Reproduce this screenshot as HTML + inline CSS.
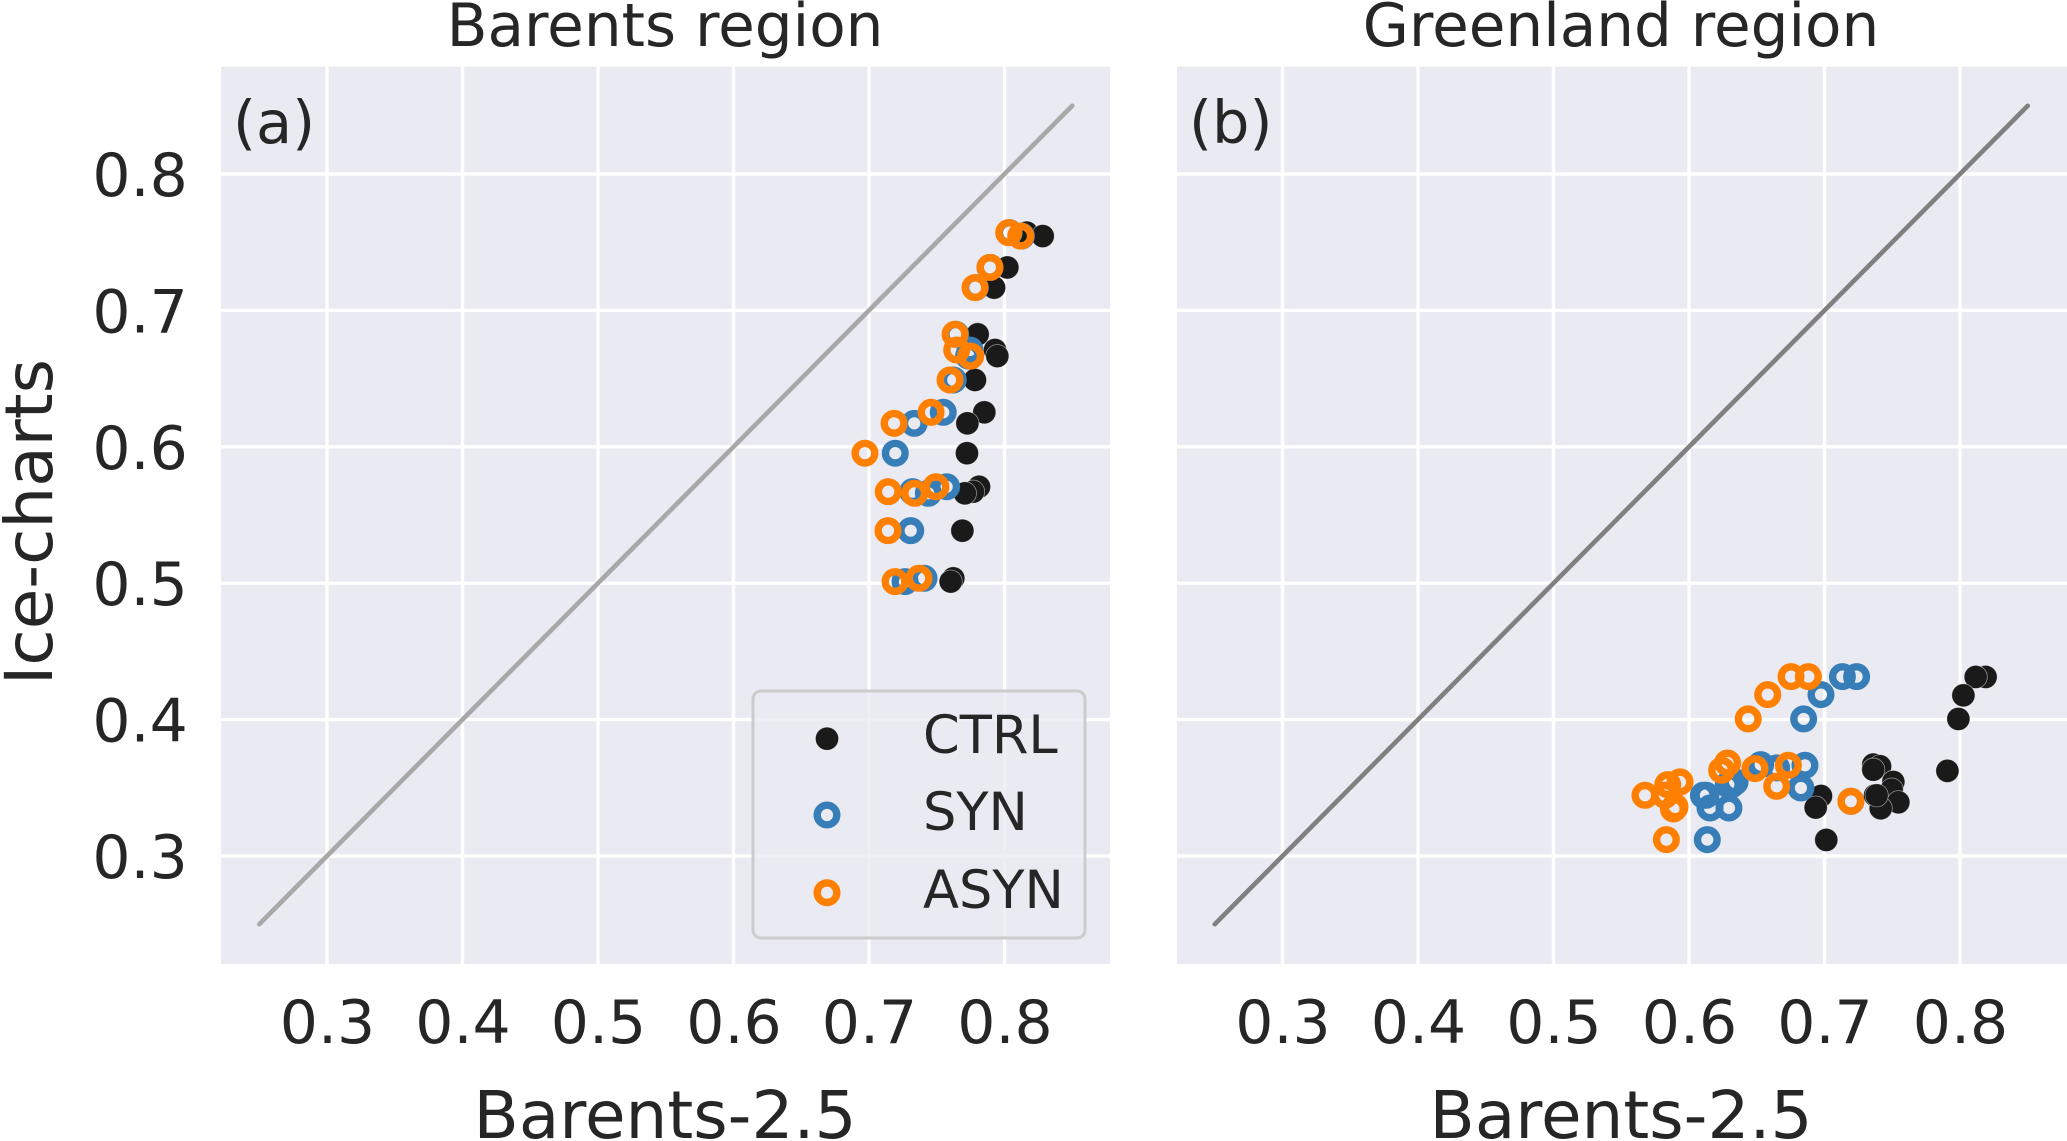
<!DOCTYPE html>
<html lang="en">
<head>
<meta charset="utf-8">
<title>Barents and Greenland region scatter</title>
<style>
html,body{margin:0;padding:0;background:#fff;width:2067px;height:1141px;overflow:hidden}
svg{display:block}
text{font-family:"DejaVu Sans","Liberation Sans",sans-serif;fill:#262626}
</style>
</head>
<body>
<svg id="chart" xmlns="http://www.w3.org/2000/svg" width="2067" height="1141" viewBox="0 0 2067 1141"></svg>
<script>
const tickValues = [0.3, 0.4, 0.5, 0.6, 0.7, 0.8];
const tickLabels = ['0.3', '0.4', '0.5', '0.6', '0.7', '0.8'];
const diagonalEnds = [0.25, 0.85];

const seriesNames = ['CTRL', 'SYN', 'ASYN'];

const barentsIce = [0.757,0.7545,0.7315,0.7167,0.6825,0.671,0.6665,0.649,0.6253,0.6172,0.5953,0.5707,0.5671,0.5659,0.5385,0.5036,0.5012];
const barentsCtrl = [0.8164,0.8282,0.8021,0.7923,0.7802,0.793,0.7947,0.7782,0.7851,0.7726,0.7723,0.7812,0.7768,0.7708,0.7689,0.7622,0.7603];
const barentsSyn = [0.8035,0.8125,0.7893,0.7785,0.764,0.7745,0.7735,0.7622,0.7548,0.7334,0.7194,0.7573,0.7322,0.7438,0.7308,0.7406,0.7266];
const barentsAsyn = [0.8031,0.812,0.7893,0.7782,0.7635,0.7647,0.775,0.7598,0.7458,0.7185,0.697,0.7494,0.7142,0.7337,0.714,0.7369,0.7192];

const greenlandCtrl = [0.8189,0.8116,0.8025,0.7988,0.736,0.741,0.7907,0.736,0.7508,0.7496,0.7545,0.7373,0.6974,0.7415,0.6935,0.7385,0.7013];
const greenlandCtrlIce = [0.4313,0.4313,0.4178,0.4005,0.367,0.3658,0.3624,0.3633,0.3543,0.3487,0.3394,0.3445,0.344,0.335,0.3355,0.3445,0.3118];
const greenlandSyn = [0.7237,0.7132,0.6974,0.6846,0.6529,0.6856,0.6647,0.634,0.629,0.6106,0.6826,0.6155,0.6295,0.7195,0.6135,0.6125,0.6315];
const greenlandSynIce = [0.4315,0.4315,0.4183,0.4005,0.367,0.3665,0.3646,0.3543,0.3523,0.3445,0.3499,0.3352,0.3352,0.3401,0.312,0.3445,0.3523];
const greenlandAsyn = [0.6881,0.6753,0.6581,0.6437,0.6285,0.6733,0.6487,0.6241,0.5934,0.5843,0.6647,0.5675,0.5823,0.7195,0.5897,0.5885,0.5833];
const greenlandAsynIce = [0.4315,0.4315,0.4183,0.4005,0.3682,0.3665,0.3641,0.3629,0.3543,0.3523,0.3511,0.3445,0.3445,0.3401,0.336,0.3345,0.312];

const NS = 'http://www.w3.org/2000/svg';
const svg = document.getElementById('chart');

function mk(parent, tag, attrs, text) {
  const el = document.createElementNS(NS, tag);
  for (const k in attrs) el.setAttribute(k, attrs[k]);
  if (text !== undefined) el.textContent = text;
  parent.appendChild(el);
  return el;
}

const DX = 1355, DY = 1364;
function yScale(v) { return 174 + (0.8 - v) * DY; }
function xScaleFor(origin) { return function (v) { return origin + (v - 0.3) * DX; }; }

function drawRing(parent, cx, cy, color, name) {
  const c = mk(parent, 'circle', {cx: cx, cy: cy, r: 9.8, fill: 'none', stroke: color, 'stroke-width': 7.4});
  
  
}
function drawDot(parent, cx, cy, name) {
  const c = mk(parent, 'circle', {cx: cx, cy: cy, r: 11.6, fill: '#1a1a1a', stroke: '#ffffff', 'stroke-width': 0.8, 'stroke-opacity': 0.5});
  
  
}

function drawPanel(cfg) {
  const x = xScaleFor(cfg.x03);
  const panel = mk(svg, 'g', {});
  
  

  const bg = mk(panel, 'rect', {x: cfg.left, y: 66.7, width: cfg.right - cfg.left, height: 897.3, fill: '#eaeaf2'});
  
  

  tickValues.forEach(function (v, i) {
    const vg = mk(panel, 'line', {x1: x(v), x2: x(v), y1: 66.7, y2: 964, stroke: '#fff', 'stroke-width': 3.4});
    
    
    const hg = mk(panel, 'line', {x1: cfg.left, x2: cfg.right, y1: yScale(v), y2: yScale(v), stroke: '#fff', 'stroke-width': 3.4});
    
    
    const xt = mk(panel, 'text', {x: x(v) + 0.5, y: 1043, 'font-size': 60, 'text-anchor': 'middle'}, tickLabels[i]);
    
    
  });

  const diag = mk(panel, 'line', {
    x1: x(diagonalEnds[0]), y1: yScale(diagonalEnds[0]),
    x2: x(diagonalEnds[1]), y2: yScale(diagonalEnds[1]),
    stroke: cfg.lineColor, 'stroke-width': 4.6, 'stroke-linecap': 'round'
  });
  
  

  cfg.ctrl.forEach(function (v, i) { drawDot(panel, x(v), yScale(cfg.ctrlIce[i]), 'ctrl-point'); });
  cfg.syn.forEach(function (v, i) { drawRing(panel, x(v), yScale(cfg.synIce[i]), '#377eb8', 'syn-point'); });
  cfg.asyn.forEach(function (v, i) { drawRing(panel, x(v), yScale(cfg.asynIce[i]), '#ff7f00', 'asyn-point'); });

  const title = mk(panel, 'text', {x: cfg.center + 1, y: 46, 'font-size': 59.6, 'text-anchor': 'middle'}, cfg.title);
  
  

  const xl = mk(panel, 'text', {x: cfg.center + 1, y: 1138, 'font-size': 66, 'text-anchor': 'middle'}, 'Barents-2.5');
  
  

  const tag = mk(panel, 'text', {x: cfg.left + 12, y: 143, 'font-size': 59}, cfg.tag);
  
  
}

drawPanel({id: 'barents', left: 221, right: 1110, x03: 327, center: 664, title: 'Barents region', tag: '(a)',
  lineColor: '#a8a8a8', ctrlIce: barentsIce, synIce: barentsIce, asynIce: barentsIce,
  ctrl: barentsCtrl, syn: barentsSyn, asyn: barentsAsyn});
drawPanel({id: 'greenland', left: 1177, right: 2067, x03: 1282.5, center: 1620, title: 'Greenland region', tag: '(b)',
  lineColor: '#808080', ctrlIce: greenlandCtrlIce, synIce: greenlandSynIce, asynIce: greenlandAsynIce,
  ctrl: greenlandCtrl, syn: greenlandSyn, asyn: greenlandAsyn});

tickValues.forEach(function (v, i) {
  const yt = mk(svg, 'text', {x: 187.8, y: yScale(v) + 22, 'font-size': 60, 'text-anchor': 'end'}, tickLabels[i]);
  
  
});

const yTitle = mk(svg, 'text', {x: 0, y: 0, 'font-size': 66, 'text-anchor': 'middle', transform: 'translate(52 522) rotate(-90)'}, 'Ice-charts');



const legend = mk(svg, 'g', {});


const legendBox = mk(legend, 'rect', {x: 753, y: 691, width: 332, height: 247, rx: 8, ry: 8, fill: '#eaeaf2', 'fill-opacity': 0.8, stroke: '#cccccc', 'stroke-width': 3});



const legendMarkY = [738.7, 815, 892.7];
const legendTextY = [753, 830, 908];
seriesNames.forEach(function (name, i) {
  if (i === 0) drawDot(legend, 827, legendMarkY[i], 'legend-marker-ctrl');
  if (i === 1) drawRing(legend, 827, legendMarkY[i], '#377eb8', 'legend-marker-syn');
  if (i === 2) drawRing(legend, 827, legendMarkY[i], '#ff7f00', 'legend-marker-asyn');
  const t = mk(legend, 'text', {x: 923, y: legendTextY[i], 'font-size': 52.6}, name);
  
  
});
</script>
</body>
</html>
